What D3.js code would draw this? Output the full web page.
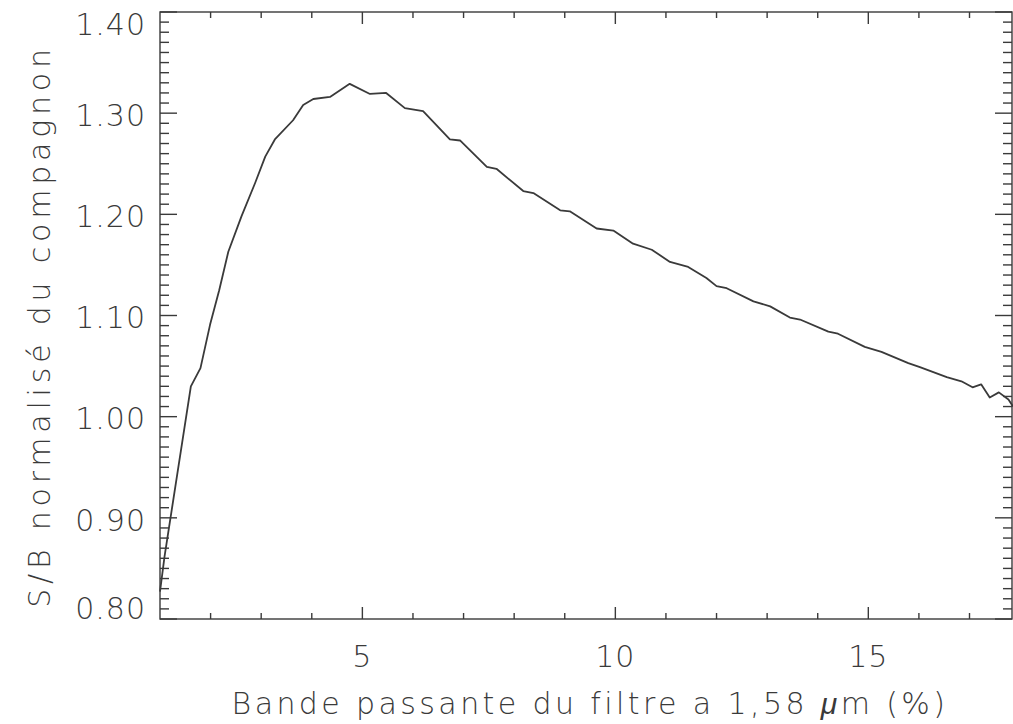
<!DOCTYPE html>
<html>
<head>
<meta charset="utf-8">
<script src="https://cdn.jsdelivr.net/npm/d3@7"></script>
<style>
  html, body { margin: 0; padding: 0; background: #fff; }
  svg { display: block; }
  text { font-family: "DejaVu Sans", sans-serif; font-weight: 200; fill: #3a3a3a; }
</style>
</head>
<body>
<svg id="chart" width="1013" height="724"></svg>
<script>
// Data
const bandwidth = [1.00, 1.09, 1.61, 1.80, 1.99, 2.17, 2.35, 2.61, 2.88, 3.08, 3.27, 3.63, 3.83, 4.03, 4.36, 4.75, 5.15, 5.47, 5.84, 6.20, 6.73, 6.93, 7.46, 7.65, 8.18, 8.38, 8.91, 9.10, 9.63, 9.96, 10.35, 10.72, 11.08, 11.44, 11.80, 12.00, 12.20, 12.73, 13.06, 13.45, 13.65, 14.21, 14.40, 14.93, 15.26, 15.79, 16.02, 16.55, 16.84, 17.06, 17.23, 17.40, 17.58, 17.77, 17.86];
const snr = [0.827, 0.862, 1.030, 1.048, 1.091, 1.125, 1.163, 1.198, 1.231, 1.257, 1.274, 1.293, 1.308, 1.314, 1.316, 1.329, 1.319, 1.320, 1.305, 1.302, 1.274, 1.273, 1.247, 1.245, 1.223, 1.221, 1.204, 1.203, 1.186, 1.184, 1.171, 1.165, 1.153, 1.148, 1.137, 1.129, 1.127, 1.114, 1.109, 1.098, 1.096, 1.084, 1.082, 1.069, 1.064, 1.053, 1.049, 1.039, 1.035, 1.029, 1.032, 1.019, 1.024, 1.017, 1.010];
const xMajorTicks = [5, 10, 15];
const xMinorTicks = [2, 3, 4, 6, 7, 8, 9, 11, 12, 13, 14, 16, 17];
const yMajorTicks = [0.80, 0.90, 1.00, 1.10, 1.20, 1.30, 1.40];
const yTickLabels = ["0.80", "0.90", "1.00", "1.10", "1.20", "1.30", "1.40"];
const xDomain = [1, 17.84];
const yDomain = [0.80, 1.40];
const xTitle = "Bande passante du filtre a 1,58 ";
const xTitleGreek = "μ";
const xTitleEnd = "m (%)";
const yTitle = "S/B normalisé du compagnon";

const svg = d3.select("#chart");
const L = 160, R = 1012, T = 12, B = 619;
const x = d3.scaleLinear().domain(xDomain).range([L, R]);
const y = d3.scaleLinear().domain(yDomain).range([B, T]);
const ink = "#3a3a3a";

const yMinor = d3.range(80, 141).map(v => v / 100).filter(v => Math.round(v * 100) % 10 !== 0);

// Frame
svg.append("rect").attr("x", L).attr("y", T).attr("width", R - L).attr("height", B - T)
  .attr("fill", "none").attr("stroke", ink).attr("stroke-width", 1.4);

const ticks = svg.append("g").attr("stroke", ink).attr("stroke-width", 1.4);
const xMajLen = 12, xMinLen = 6, yMajLen = 17, yMinLen = 9;
xMajorTicks.forEach(v => {
  ticks.append("line").attr("x1", x(v)).attr("x2", x(v)).attr("y1", B).attr("y2", B - xMajLen);
  ticks.append("line").attr("x1", x(v)).attr("x2", x(v)).attr("y1", T).attr("y2", T + xMajLen);
});
xMinorTicks.forEach(v => {
  ticks.append("line").attr("x1", x(v)).attr("x2", x(v)).attr("y1", B).attr("y2", B - xMinLen);
  ticks.append("line").attr("x1", x(v)).attr("x2", x(v)).attr("y1", T).attr("y2", T + xMinLen);
});
yMajorTicks.forEach(v => {
  ticks.append("line").attr("x1", L).attr("x2", L + yMajLen).attr("y1", y(v)).attr("y2", y(v));
  ticks.append("line").attr("x1", R).attr("x2", R - yMajLen).attr("y1", y(v)).attr("y2", y(v));
});
yMinor.forEach(v => {
  ticks.append("line").attr("x1", L).attr("x2", L + yMinLen).attr("y1", y(v)).attr("y2", y(v));
  ticks.append("line").attr("x1", R).attr("x2", R - yMinLen).attr("y1", y(v)).attr("y2", y(v));
});

// Tick labels
const fs = 30;
yMajorTicks.forEach((v, i) => {
  let cy = y(v) + 2;
  cy = Math.max(T + 12, Math.min(B - 11, cy));
  svg.append("text").attr("x", 146).attr("y", cy + fs * 0.36)
    .attr("text-anchor", "end").attr("font-size", fs).attr("letter-spacing", 1).text(yTickLabels[i]);
});
xMajorTicks.forEach(v => {
  svg.append("text").attr("x", x(v)).attr("y", 667)
    .attr("text-anchor", "middle").attr("font-size", fs).attr("letter-spacing", 1).text(String(v));
});

// Axis titles
const xt = svg.append("text").attr("x", 590).attr("y", 714)
  .attr("text-anchor", "middle").attr("font-size", fs).attr("letter-spacing", 3.4);
xt.append("tspan").text(xTitle);
xt.append("tspan").attr("font-style", "italic").attr("font-weight", 400)
  .style("font-family", "'Liberation Sans', sans-serif").text(xTitleGreek);
xt.append("tspan").text(xTitleEnd);

svg.append("text").attr("transform", "translate(50,326) rotate(-90)")
  .attr("text-anchor", "middle").attr("font-size", fs).attr("letter-spacing", 4.8).text(yTitle);

// Curve
const line = d3.line().x(d => x(d[0])).y(d => y(d[1]));
svg.append("path").datum(bandwidth.map((b, i) => [b, snr[i]]))
  .attr("d", line).attr("fill", "none").attr("stroke", ink)
  .attr("stroke-width", 1.8).attr("stroke-linejoin", "round");
</script>
</body>
</html>
